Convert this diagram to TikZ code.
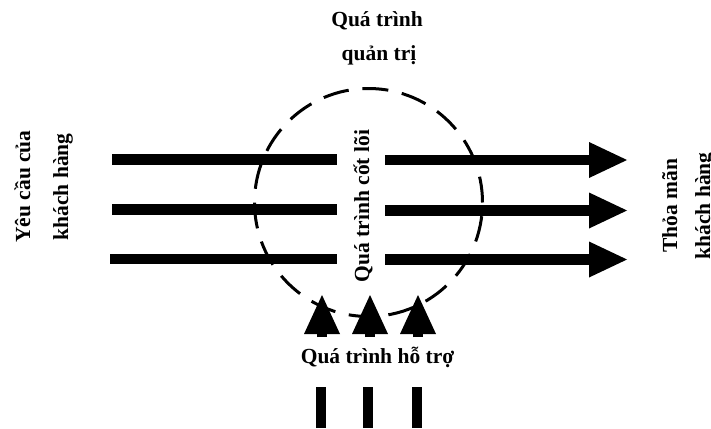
\documentclass[tikz,border=0pt]{standalone}
\usepackage{fontspec}
\setmainfont{Liberation Serif}
\usetikzlibrary{arrows.meta}
\begin{document}
\begin{tikzpicture}[x=1pt,y=-1pt,
  txt/.style={font=\bfseries\fontsize{21.5}{26}\selectfont, inner sep=0pt, anchor=base},
  vtxt/.style={txt, rotate=90},
  band/.style={line width=10.5pt},
  flow/.style={line width=10.5pt, -{Triangle[length=38pt,width=36pt,line width=0pt]}},
  feed/.style={line width=10pt, -{Triangle[length=39pt,width=36pt,line width=0pt]}},
  post/.style={line width=10pt},
  ring/.style={circle, draw, line width=3pt, dash pattern=on 26pt off 13.8pt,
               minimum size=228pt, inner sep=0pt}]
\useasboundingbox (0,0) rectangle (711,428);

% management boundary
\node[ring] (core) at (368.5,202.5) {};

% incoming customer requirements
\coordinate (in1a) at (112,159.5);  \coordinate (in1b) at (337,159.5);
\coordinate (in2a) at (112,209.5);  \coordinate (in2b) at (337,209.5);
\coordinate (in3a) at (110,259);    \coordinate (in3b) at (337,259);
\draw[band] (in1a) -- (in1b);
\draw[band] (in2a) -- (in2b);
\draw[band] (in3a) -- (in3b);

% outgoing satisfied customers
\coordinate (out1a) at (385,160);   \coordinate (out1b) at (627,160);
\coordinate (out2a) at (385,210.5); \coordinate (out2b) at (627,210.5);
\coordinate (out3a) at (385,259.5); \coordinate (out3b) at (627,259.5);
\draw[flow] (out1a) -- (out1b);
\draw[flow] (out2a) -- (out2b);
\draw[flow] (out3a) -- (out3b);

% support inputs from below
\coordinate (up1a) at (322,337);   \coordinate (up1b) at (322,295);
\coordinate (up2a) at (370,337);   \coordinate (up2b) at (370,295);
\coordinate (up3a) at (418,337);   \coordinate (up3b) at (418,295);
\draw[feed] (up1a) -- (up1b);
\draw[feed] (up2a) -- (up2b);
\draw[feed] (up3a) -- (up3b);

\coordinate (po1a) at (321,387);   \coordinate (po1b) at (321,428);
\coordinate (po2a) at (368,387);   \coordinate (po2b) at (368,428);
\coordinate (po3a) at (417,387);   \coordinate (po3b) at (417,428);
\draw[post] (po1a) -- (po1b);
\draw[post] (po2a) -- (po2b);
\draw[post] (po3a) -- (po3b);

% labels
\node[txt] (mgmt1) at (377,27) {Quá trình};
\node[txt] (mgmt2) at (379,60.5) {quản trị};
\node[vtxt] (req1) at (30,186.5) {Yêu cầu của};
\node[vtxt] (req2) at (68,187) {khách hàng};
\node[vtxt] (sat1) at (677,205.5) {Thỏa mãn};
\node[vtxt] (sat2) at (710,206) {khách hàng};
\node[vtxt] (corelbl) at (369,206) {Quá trình cốt lõi};
\node[txt] (support) at (377.5,363) {Quá trình hỗ trợ};
\end{tikzpicture}
\end{document}
